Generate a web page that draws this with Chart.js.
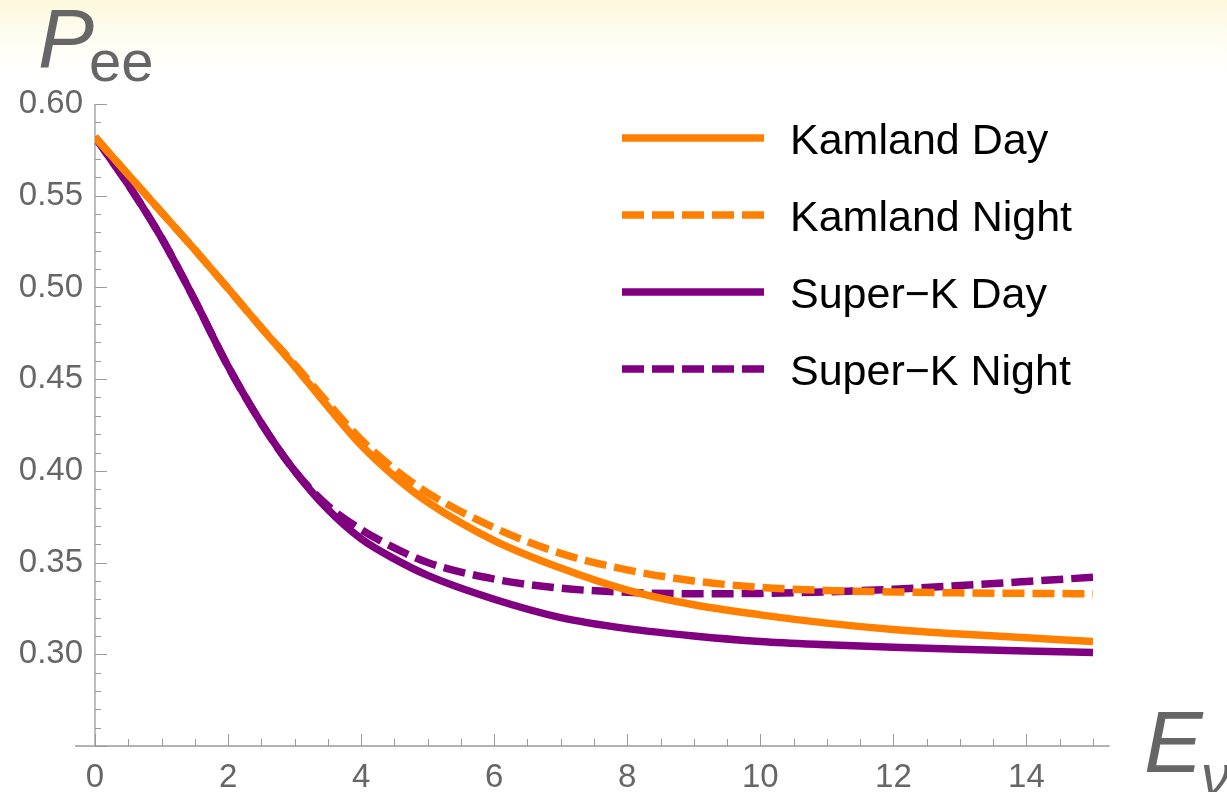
<!DOCTYPE html>
<html lang="en">
<head>
    <meta charset="UTF-8">
    <title>Pee vs E</title>
    <script src="https://cdn.jsdelivr.net/npm/chart.js"></script>
    <style>
        html, body {
            margin: 0;
            padding: 0;
            width: 1227px;
            height: 792px;
            overflow: hidden;
            background: linear-gradient(to bottom, #fcf8dc 0px, #fefcee 30px, #ffffff 72px);
        }
        #wrap {
            width: 1227px;
            height: 792px;
        }
    </style>
</head>
<body>
    <div id="wrap"><canvas id="peeChart" width="1227" height="792"></canvas></div>

    <script>
        // energies (x) and probabilities
        const energies = [0, 0.5, 1, 1.5, 2, 2.5, 3, 3.5, 4, 4.5, 5, 6, 7, 8, 9, 10, 11, 12, 13, 14, 15];

        const kamlandDay   = [0.582, 0.5615, 0.541, 0.5205, 0.4995, 0.478, 0.457, 0.435, 0.414, 0.397, 0.383, 0.362, 0.347, 0.335, 0.327, 0.3215, 0.317, 0.3135, 0.311, 0.309, 0.307];
        const kamlandNight = [0.582, 0.5615, 0.541, 0.5205, 0.4995, 0.478, 0.458, 0.437, 0.417, 0.401, 0.388, 0.369, 0.355, 0.346, 0.340, 0.3365, 0.3348, 0.334, 0.3335, 0.3332, 0.333];
        const superKDay    = [0.582, 0.556, 0.527, 0.493, 0.457, 0.426, 0.400, 0.379, 0.363, 0.352, 0.343, 0.330, 0.320, 0.314, 0.310, 0.307, 0.3052, 0.3038, 0.3027, 0.3018, 0.301];
        const superKNight  = [0.582, 0.556, 0.527, 0.493, 0.457, 0.426, 0.400, 0.381, 0.368, 0.358, 0.350, 0.341, 0.336, 0.3338, 0.333, 0.3332, 0.334, 0.3355, 0.3375, 0.3397, 0.342];

        const seriesNames = ['Kamland Day', 'Kamland Night', 'Super\u2212K Day', 'Super\u2212K Night'];

        const xTicks = [0, 2, 4, 6, 8, 10, 12, 14];
        const yTicks = [0.30, 0.35, 0.40, 0.45, 0.50, 0.55, 0.60];

        const ORANGE = '#ff8000';
        const PURPLE = '#800080';
        const AXIS = '#9a9a9a';
        const LABEL = '#666666';
        const FONT = "'Liberation Sans', Arial, sans-serif";
        const DASH = [22, 8];

        function toPoints(ys) {
            return energies.map((e, i) => ({ x: e, y: ys[i] }));
        }

        function makeSet(label, ys, color, dash) {
            return {
                label,
                data: toPoints(ys),
                borderColor: color,
                backgroundColor: color,
                borderWidth: 7.5,
                borderDash: dash,
                borderCapStyle: 'butt',
                pointRadius: 0,
                fill: false,
                cubicInterpolationMode: 'monotone'
            };
        }

        // axes with inward ticks, Mathematica style
        const axesPlugin = {
            id: 'frameAxes',
            beforeDatasetsDraw(chart) {
                const { ctx, scales: { x, y } } = chart;
                const x0 = x.getPixelForValue(0);
                const yb = y.getPixelForValue(0.25);
                ctx.save();
                ctx.strokeStyle = AXIS;
                ctx.lineWidth = 1.3;

                ctx.beginPath();
                ctx.moveTo(x.getPixelForValue(-0.3), yb);
                ctx.lineTo(x.getPixelForValue(15.25), yb);
                ctx.moveTo(x0, yb);
                ctx.lineTo(x0, y.getPixelForValue(0.60));
                ctx.stroke();

                ctx.lineWidth = 1;
                ctx.beginPath();
                for (let k = 0; k <= 30; k++) {
                    const px = Math.round(x.getPixelForValue(k * 0.5)) + 0.5;
                    const len = k % 4 === 0 ? 12 : 7;
                    ctx.moveTo(px, yb);
                    ctx.lineTo(px, yb - len);
                }
                for (let k = 25; k <= 60; k++) {
                    const py = Math.round(y.getPixelForValue(k / 100)) + 0.5;
                    const len = k % 5 === 0 ? 12 : 6;
                    ctx.moveTo(x0, py);
                    ctx.lineTo(x0 + len, py);
                }
                ctx.stroke();
                ctx.restore();
            },
            afterDraw(chart) {
                const { ctx } = chart;
                ctx.save();
                ctx.fillStyle = LABEL;
                ctx.textBaseline = 'alphabetic';
                ctx.font = `italic 84px ${FONT}`;
                ctx.fillText('P', 38, 67);
                ctx.font = `58px ${FONT}`;
                ctx.fillText('ee', 89, 81);
                ctx.font = `italic 88px ${FONT}`;
                ctx.fillText('E', 1144, 772);
                ctx.font = `italic 58px ${FONT}`;
                ctx.fillText('\u03bd', 1201, 795);

                // legend
                chart.data.datasets.forEach((ds, i) => {
                    const ly = 138 + 77 * i;
                    ctx.strokeStyle = ds.borderColor;
                    ctx.lineWidth = ds.borderWidth;
                    ctx.setLineDash(ds.borderDash);
                    ctx.lineCap = 'butt';
                    ctx.beginPath();
                    ctx.moveTo(622, ly);
                    ctx.lineTo(764, ly);
                    ctx.stroke();
                    ctx.setLineDash([]);
                    ctx.fillStyle = '#000';
                    ctx.font = `43px ${FONT}`;
                    ctx.fillText(ds.label, 790, ly + 16);
                });
                ctx.restore();
            }
        };

        new Chart(document.getElementById('peeChart'), {
            type: 'line',
            data: {
                datasets: [
                    makeSet(seriesNames[0], kamlandDay, ORANGE, []),
                    makeSet(seriesNames[1], kamlandNight, ORANGE, DASH),
                    makeSet(seriesNames[2], superKDay, PURPLE, []),
                    makeSet(seriesNames[3], superKNight, PURPLE, DASH)
                ]
            },
            options: {
                responsive: false,
                animation: false,
                layout: { padding: { top: 104, right: 134, left: 15, bottom: 0 } },
                plugins: {
                    legend: { display: false },
                    tooltip: { enabled: false }
                },
                scales: {
                    x: {
                        type: 'linear',
                        min: 0,
                        max: 15,
                        grid: { display: false, drawTicks: false },
                        border: { display: false },
                        afterBuildTicks: s => { s.ticks = xTicks.map(v => ({ value: v })); },
                        afterFit: s => { s.height = 46; },
                        ticks: {
                            padding: 12,
                            color: LABEL,
                            font: { family: FONT, size: 33 },
                            callback: v => String(v),
                            maxRotation: 0
                        }
                    },
                    y: {
                        type: 'linear',
                        min: 0.25,
                        max: 0.60,
                        grid: { display: false, drawTicks: false },
                        border: { display: false },
                        afterBuildTicks: s => { s.ticks = yTicks.map(v => ({ value: v })); },
                        afterFit: s => { s.width = 80; },
                        ticks: {
                            padding: 12,
                            color: LABEL,
                            font: { family: FONT, size: 33 },
                            callback: v => v.toFixed(2)
                        }
                    }
                }
            },
            plugins: [axesPlugin]
        });
    </script>
</body>
</html>
